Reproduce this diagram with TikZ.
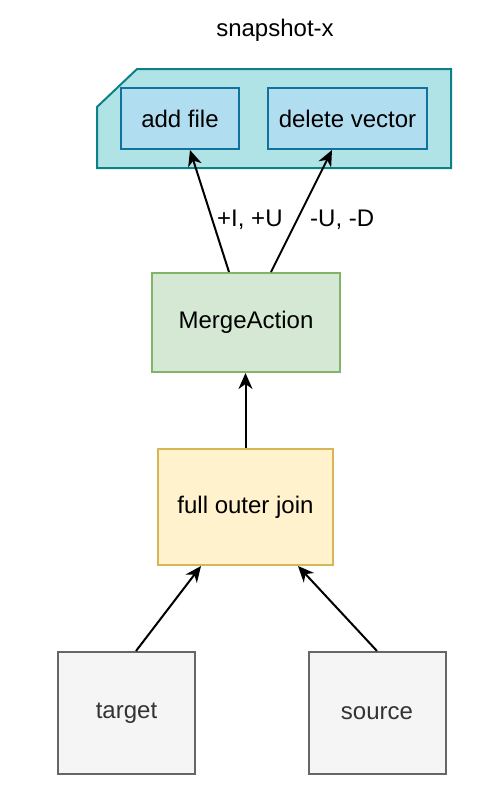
\documentclass[tikz,border=0pt]{standalone}
\usepackage{fontspec}
\setmainfont{Liberation Sans}
\usetikzlibrary{arrows.meta,calc}
\definecolor{cardfill}{HTML}{B0E3E6}
\definecolor{cardline}{HTML}{0E8088}
\definecolor{bluefill}{HTML}{B1DDF0}
\definecolor{blueline}{HTML}{10739E}
\definecolor{greenfill}{HTML}{D5E8D4}
\definecolor{greenline}{HTML}{82B366}
\definecolor{yellowfill}{HTML}{FFF2CC}
\definecolor{yellowline}{HTML}{D6B656}
\definecolor{grayfill}{HTML}{F5F5F5}
\definecolor{grayline}{HTML}{666666}
\definecolor{graytext}{HTML}{333333}

\begin{document}
\begin{tikzpicture}[x=0.5pt,y=-0.5pt,
    every node/.style={font=\fontsize{12}{14}\selectfont},
    box/.style={draw,line width=1pt,inner sep=0pt},
    filebox/.style={box,draw=blueline,fill=bluefill,minimum height=30.5pt},
    inputbox/.style={box,draw=grayline,fill=grayfill,text=graytext,minimum width=68.5pt,minimum height=61pt},
    flow/.style={-{Stealth[length=8pt,width=7pt,inset=2.5pt]},line width=1pt}]
    \useasboundingbox (0,0) rectangle (492,798);
    \node (title) at (275,30) {snapshot-x};
    \draw[cardline,fill=cardfill,line width=1pt] (137,69) -- (451,69) -- (451,168) -- (97,168) -- (97,107) -- cycle;
    \node[filebox,minimum width=59pt] (add) at (180,118.5) {add file};
    \node[filebox,minimum width=79.5pt] (del) at (347.5,118.5) {delete vector};
    \node[box,draw=greenline,fill=greenfill,minimum width=94pt,minimum height=49.5pt] (merge) at (246,322.5) {MergeAction};
    \node[box,draw=yellowline,fill=yellowfill,minimum width=87.5pt,minimum height=58pt] (join) at (245.5,507) {full outer join};
    \node[inputbox] (target) at (126.5,713) {target};
    \node[inputbox] (source) at (377,713) {source};
    \draw[flow] ($(target.north)+(9.5,0)$) -- ($(join.south)+(-44.5,0)$);
    \draw[flow] (source.north) -- ($(join.south)+(52.5,0)$);
    \draw[flow] (join.north) -- (join.north |- merge.south);
    \draw[flow] ($(merge.north)+(-17,0)$) -- node[pos=0.43,right,inner sep=2pt]{+I, +U} ($(add.south)+(10,0)$);
    \draw[flow] ($(merge.north)+(25,0)$) -- node[pos=0.43,right,inner sep=2pt,xshift=4pt]{-U, -D} ($(del.south)+(-15.5,0)$);
\end{tikzpicture}
\end{document}
